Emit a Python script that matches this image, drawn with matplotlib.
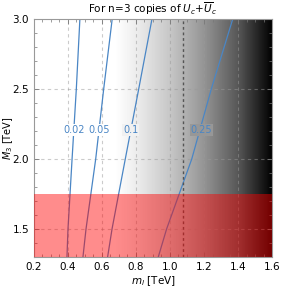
import numpy as np
import matplotlib.pyplot as plt
from matplotlib.colors import LinearSegmentedColormap

# contour levels and where each one crosses a few M3 values
levels = ['0.02', '0.05', '0.1', '0.25']
m3_pts = [1.3, 1.5, 2.0, 2.5, 3.0]
ml_pts = [
    [0.394, 0.400, 0.424, 0.449, 0.470],
    [0.488, 0.506, 0.563, 0.610, 0.660],
    [0.633, 0.659, 0.737, 0.816, 0.894],
    [0.931, 0.980, 1.128, 1.243, 1.369],
]
label_x = [0.435, 0.584, 0.769, 1.186]
label_y = 2.21

# grey shading along m_l
shade_x = [0.2, 0.68, 0.8, 1.0, 1.2, 1.4, 1.6]
shade_v = [1.0, 1.0, 0.93, 0.78, 0.58, 0.34, 0.0]

excl_m3 = 1.75      # excluded below this
bound_ml = 1.075    # dashed bound

blue = '#4a86c5'

fig = plt.figure(figsize=(2.89, 2.91), dpi=100)
ax = fig.add_axes([0.1176, 0.1168, 0.8236, 0.8179])

xmin, xmax, ymin, ymax = 0.2, 1.6, 1.3, 3.0
cmap = LinearSegmentedColormap.from_list(
    'shade', [((x - xmin) / (xmax - xmin), (v, v, v)) for x, v in zip(shade_x, shade_v)])
grad = np.linspace(xmin, xmax, 400)[None, :]
ax.imshow(grad, extent=[xmin, xmax, ymin, ymax], aspect='auto', cmap=cmap,
          vmin=xmin, vmax=xmax, origin='lower', zorder=0)

for x in [0.4, 0.6, 0.8, 1.0, 1.2, 1.4]:
    ax.axvline(x, color='#999999', alpha=0.5, lw=0.8, ls=(0, (3, 3)), zorder=1)
for y in [1.5, 2.0, 2.5]:
    ax.axhline(y, color='#999999', alpha=0.5, lw=0.8, ls=(0, (3, 3)), zorder=1)

for lev, xs, lx in zip(levels, ml_pts, label_x):
    ax.plot(xs, m3_pts, color=blue, lw=0.9, zorder=2)
    bg = cmap((lx - xmin) / (xmax - xmin))
    ax.text(lx, label_y, lev, color=blue, fontsize=7, ha='center', va='center',
            zorder=3, bbox=dict(boxstyle='square,pad=0.1', fc=bg, ec='none'))

ax.axvline(bound_ml, color='#555555', lw=1.0, ls=(0, (2, 2)), zorder=4)
ax.axhspan(ymin, excl_m3, color=(1, 0, 0), alpha=0.45, lw=0, zorder=5)

ax.set_xlim(xmin, xmax)
ax.set_ylim(ymin, ymax)
ax.set_xticks(np.arange(0.2, 1.61, 0.2))
ax.set_yticks([1.5, 2.0, 2.5, 3.0])
ax.set_xticks(np.arange(0.2, 1.61, 0.05), minor=True)
ax.set_yticks(np.arange(1.3, 3.01, 0.1), minor=True)
ax.tick_params(which='both', direction='in', top=True, right=True, labelsize=7.5,
               color='#777777', zorder=6)
ax.tick_params(which='major', length=3.5, width=0.6)
ax.tick_params(which='minor', length=2, width=0.5)
for s in ax.spines.values():
    s.set_color('#999999')
    s.set_linewidth(0.8)

ax.set_title(r'For n=3 copies of $U_c$+$\overline{U}_c$', fontsize=7.5, pad=4)
ax.set_xlabel(r'$m_l$ [TeV]', fontsize=7.5, labelpad=2)
ax.set_ylabel(r'$M_3$ [TeV]', fontsize=7)
ax.yaxis.set_label_coords(-0.08, 0.5)

fig.savefig('out.png', dpi=100)
